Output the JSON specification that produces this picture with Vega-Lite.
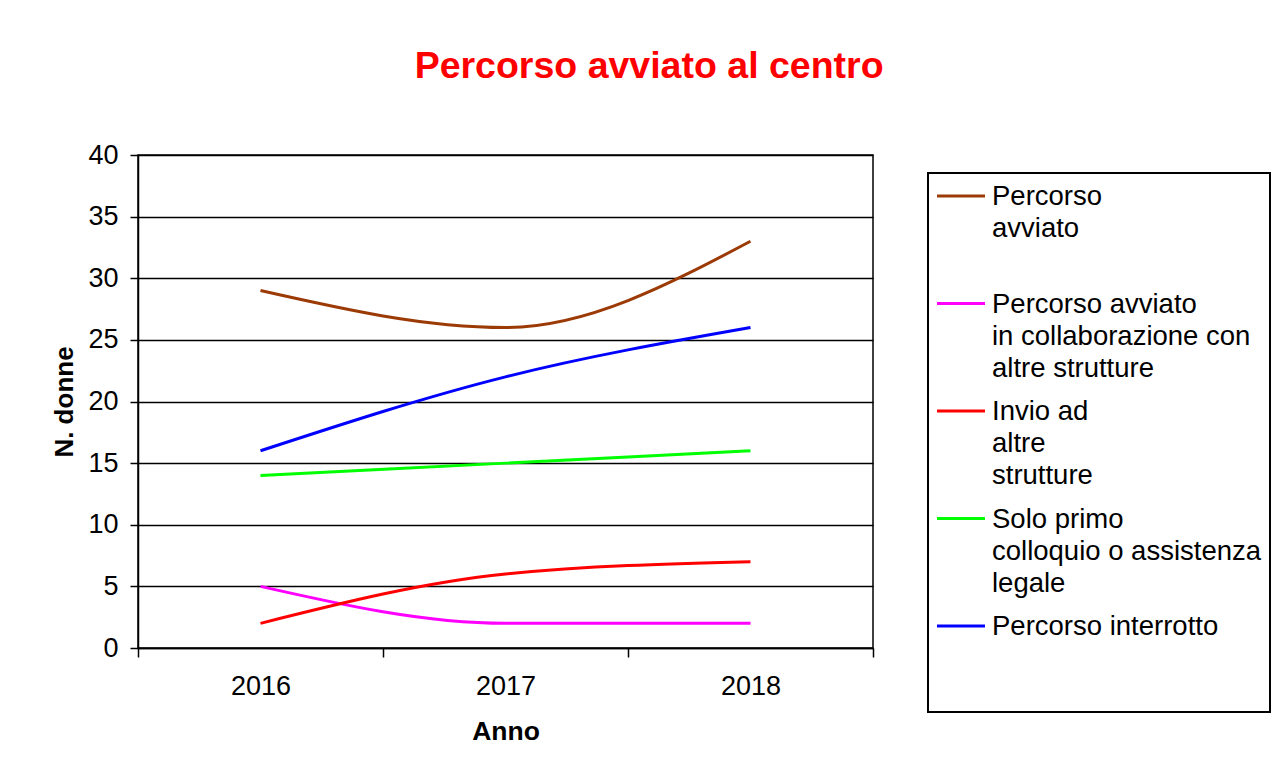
{
  "$schema": "https://vega.github.io/schema/vega-lite/v6.json",
  "background": "white",
  "padding": {"left": 51, "top": 47, "right": 16, "bottom": 5},
  "title": {
    "text": "Percorso avviato al centro",
    "color": "#FF0000",
    "font": "Liberation Sans",
    "fontSize": 37.5,
    "fontWeight": "bold",
    "anchor": "middle",
    "offset": 55,
    "dx": -12
  },
  "config": {
    "font": "Liberation Sans",
    "view": {"stroke": null}
  },
  "datasets": {
    "series": [
      {"idx": 0, "series": "Percorso avviato", "label": "Percorso\navviato"},
      {"idx": 1, "series": "Percorso avviato in collaborazione con altre strutture", "label": "Percorso avviato\nin collaborazione con\naltre strutture"},
      {"idx": 2, "series": "Invio ad altre strutture", "label": "Invio ad\naltre\nstrutture"},
      {"idx": 3, "series": "Solo primo colloquio o assistenza legale", "label": "Solo primo\ncolloquio o assistenza\nlegale"},
      {"idx": 4, "series": "Percorso interrotto", "label": "Percorso interrotto"}
    ]
  },
  "spacing": 52,
  "hconcat": [
    {
      "width": 735,
      "height": 493,
      "view": {"stroke": "black", "strokeWidth": 1.5},
      "data": {
        "values": [
          {"anno": "2016", "series": "Percorso avviato", "n": 29},
          {"anno": "2017", "series": "Percorso avviato", "n": 26},
          {"anno": "2018", "series": "Percorso avviato", "n": 33},
          {"anno": "2016", "series": "Percorso avviato in collaborazione con altre strutture", "n": 5},
          {"anno": "2017", "series": "Percorso avviato in collaborazione con altre strutture", "n": 2},
          {"anno": "2018", "series": "Percorso avviato in collaborazione con altre strutture", "n": 2},
          {"anno": "2016", "series": "Invio ad altre strutture", "n": 2},
          {"anno": "2017", "series": "Invio ad altre strutture", "n": 6},
          {"anno": "2018", "series": "Invio ad altre strutture", "n": 7},
          {"anno": "2016", "series": "Solo primo colloquio o assistenza legale", "n": 14},
          {"anno": "2017", "series": "Solo primo colloquio o assistenza legale", "n": 15},
          {"anno": "2018", "series": "Solo primo colloquio o assistenza legale", "n": 16},
          {"anno": "2016", "series": "Percorso interrotto", "n": 16},
          {"anno": "2017", "series": "Percorso interrotto", "n": 22},
          {"anno": "2018", "series": "Percorso interrotto", "n": 26}
        ]
      },
      "mark": {"type": "line", "interpolate": "monotone", "strokeWidth": 3},
      "encoding": {
        "x": {
          "field": "anno",
          "type": "ordinal",
          "scale": {"paddingInner": 0, "paddingOuter": 0},
          "axis": {
            "title": "Anno",
            "titleFontSize": 26.5,
            "titleFontWeight": "bold",
            "titleColor": "black",
            "titlePadding": 19,
            "labelAngle": 0,
            "labelFontSize": 27,
            "labelColor": "black",
            "labelPadding": 16,
            "tickBand": "extent",
            "tickSize": 9,
            "tickColor": "black",
            "tickWidth": 1.5,
            "domainColor": "black",
            "domainWidth": 1.5,
            "grid": false
          }
        },
        "y": {
          "field": "n",
          "type": "quantitative",
          "scale": {"domain": [0, 40], "nice": false},
          "axis": {
            "title": "N. donne",
            "titleFontSize": 26,
            "titleFontWeight": "bold",
            "titleColor": "black",
            "titlePadding": 10,
            "values": [0, 5, 10, 15, 20, 25, 30, 35, 40],
            "labelFontSize": 27,
            "labelColor": "black",
            "labelPadding": 12,
            "tickSize": 8,
            "tickColor": "black",
            "tickWidth": 1.5,
            "domainColor": "black",
            "domainWidth": 1.5,
            "grid": true,
            "gridColor": "black",
            "gridWidth": 1.5,
            "gridOpacity": 1
          }
        },
        "color": {
          "field": "series",
          "type": "nominal",
          "scale": {
            "domain": ["Percorso avviato", "Percorso avviato in collaborazione con altre strutture", "Invio ad altre strutture", "Solo primo colloquio o assistenza legale", "Percorso interrotto"],
            "range": ["#9C3A06", "#FF00FF", "#FF0000", "#00FF00", "#0000FF"]
          },
          "legend": null
        }
      }
    },
    {
      "width": 342,
      "height": 557,
      "layer": [
        {
          "data": {"values": [{"box": "legenda"}]},
          "mark": {"type": "rect", "fill": "white", "stroke": "black", "strokeWidth": 2},
          "encoding": {
            "x": {"datum": 0, "type": "quantitative", "scale": {"domain": [0, 342], "nice": false, "zero": false}, "axis": null},
            "x2": {"datum": 342},
            "y": {"datum": -0.214, "type": "quantitative", "scale": {"domain": [-0.3814, 4.8], "nice": false, "zero": false, "reverse": true}, "axis": null},
            "y2": {"datum": 4.8}
          }
        },
        {
          "data": {"name": "series"},
          "mark": {"type": "rule", "strokeWidth": 3},
          "encoding": {
            "x": {"datum": 9, "type": "quantitative"},
            "x2": {"datum": 57},
            "y": {"field": "idx", "type": "quantitative"},
            "color": {"field": "series", "type": "nominal", "legend": null}
          }
        },
        {
          "data": {"name": "series"},
          "mark": {"type": "text", "align": "left", "baseline": "alphabetic", "lineBreak": "\n", "fontSize": 27.5, "lineHeight": 32, "dy": 9, "color": "black"},
          "encoding": {
            "x": {"datum": 64, "type": "quantitative"},
            "y": {"field": "idx", "type": "quantitative"},
            "text": {"field": "label", "type": "nominal"}
          }
        }
      ]
    }
  ]
}
